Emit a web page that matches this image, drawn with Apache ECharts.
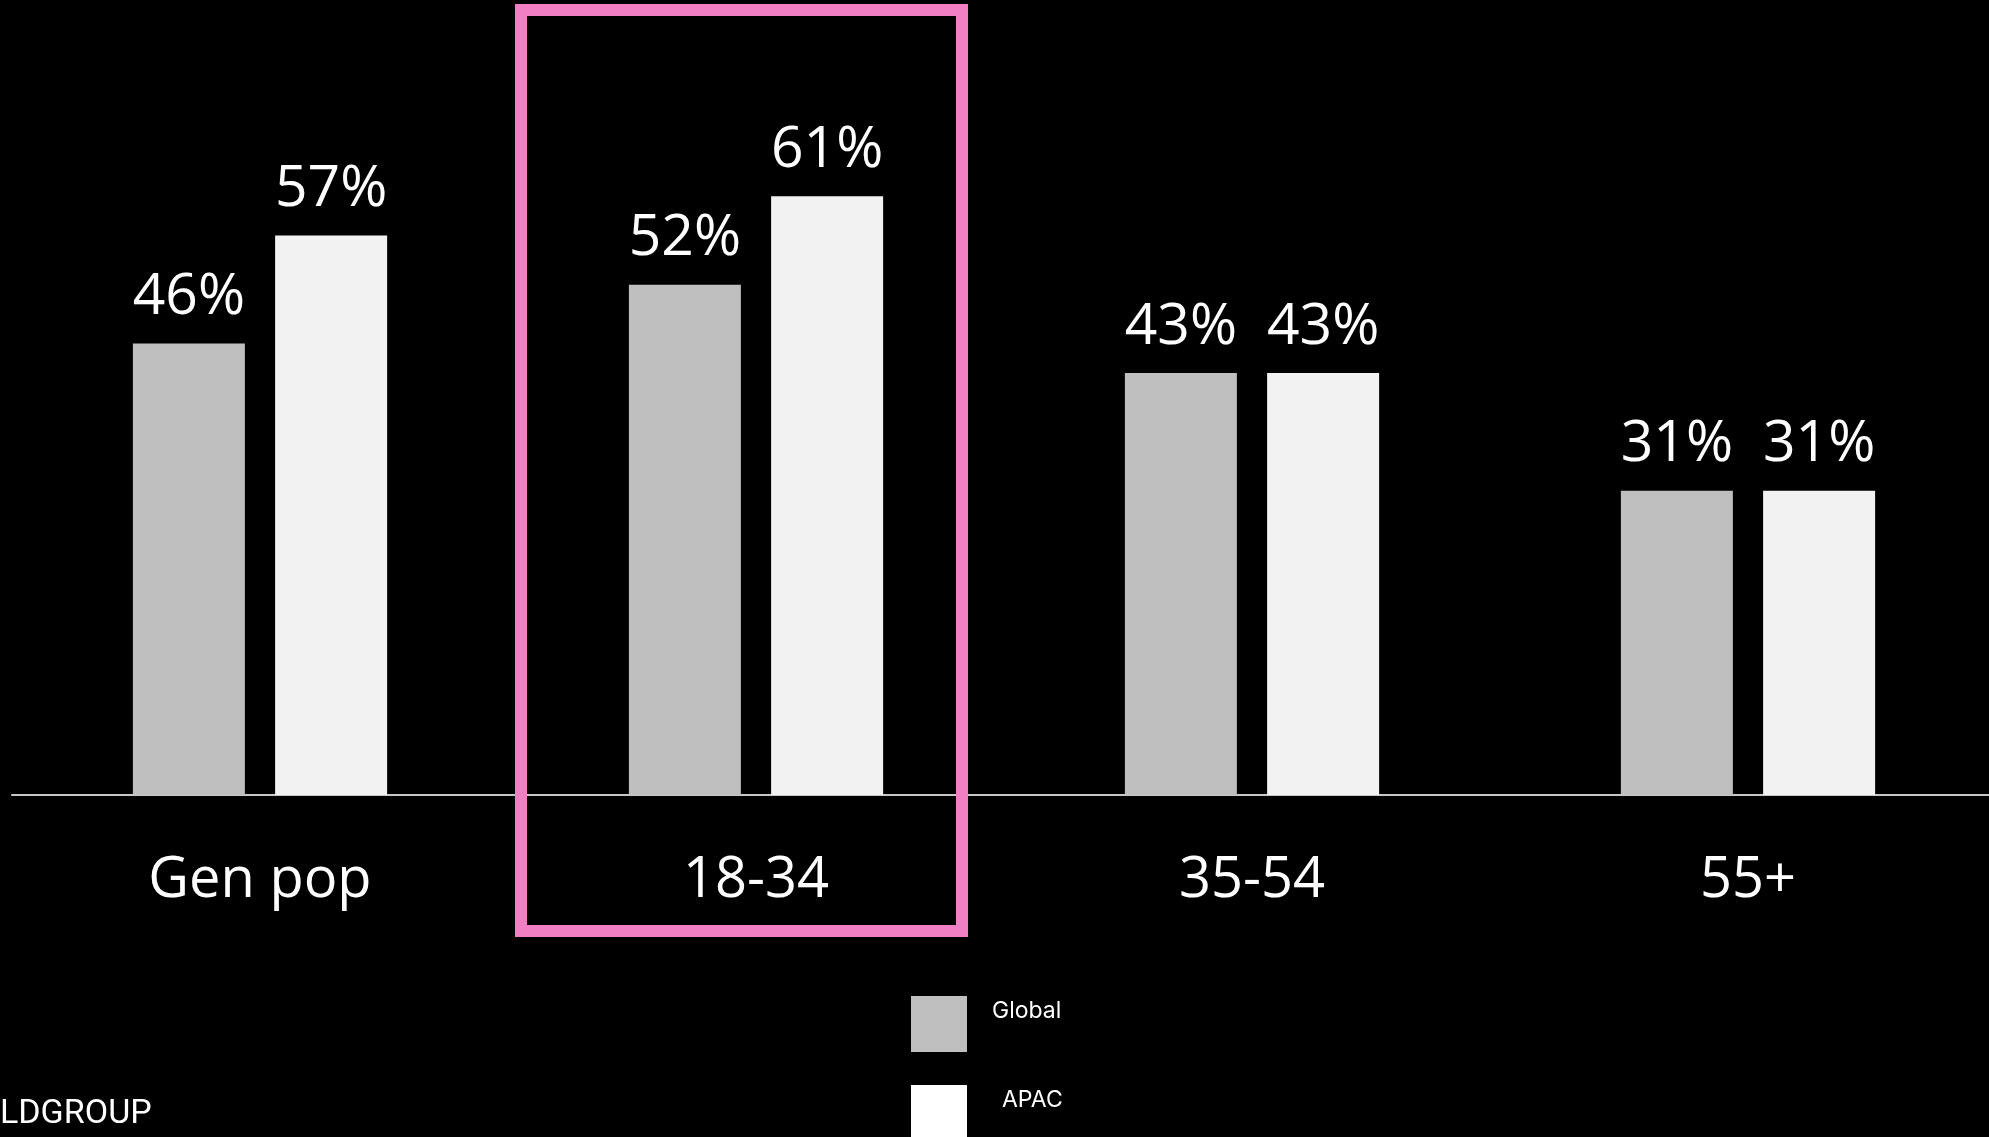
<!DOCTYPE html>
<html>
<head>
<meta charset="utf-8">
<script src="https://cdn.jsdelivr.net/npm/echarts@6/dist/echarts.min.js"></script>
<style>
html,body{margin:0;padding:0;background:#000;}
#main{width:1989px;height:1137px;}
</style>
</head>
<body>
<div id="main"></div>
<script>
const categories = ['Gen pop', '18-34', '35-54', '55+'];
const globalValues = [46, 52, 43, 31];
const apacValues = [57, 61, 43, 31];
const seriesNames = ['Global', 'APAC'];
const footerText = 'LDGROUP';

const chart = echarts.init(document.getElementById('main'));
const font = '"Open Sans", "Noto Sans", sans-serif';
const legendFont = 'Inter, Roboto, sans-serif';
chart.setOption({
  backgroundColor: '#000000',
  animation: false,
  grid: { left: 12, right: -7, top: 0, height: 795, containLabel: false, outerBoundsMode: 'none' },
  xAxis: {
    type: 'category',
    data: categories,
    axisLine: { show: true, lineStyle: { color: '#c8c8c8', width: 2 } },
    axisTick: { show: false },
    axisLabel: { color: '#ffffff', fontSize: 56, fontFamily: font, margin: 56, lineHeight: 60 }
  },
  yAxis: { type: 'value', min: 0, max: 81, show: false, splitLine: { show: false } },
  legend: [
    {
      orient: 'vertical', left: 911, top: 996, padding: 0,
      itemWidth: 56, itemHeight: 56, icon: 'rect',
      formatter: '{name}\n',
      textStyle: { color: '#ffffff', fontSize: 23, lineHeight: 26, fontFamily: legendFont, padding: [0, 0, 0, 20] },
      data: [{ name: seriesNames[0], itemStyle: { color: '#BFBFBF' } }]
    },
    {
      orient: 'vertical', left: 911, top: 1085, padding: 0,
      itemWidth: 56, itemHeight: 56, icon: 'rect',
      formatter: '{name}\n',
      textStyle: { color: '#ffffff', fontSize: 23, lineHeight: 26, fontFamily: legendFont, padding: [0, 0, 0, 30] },
      data: [{ name: seriesNames[1], itemStyle: { color: '#FFFFFF' } }]
    }
  ],
  series: [
    {
      name: seriesNames[0], type: 'bar', data: globalValues,
      barWidth: 112, barGap: '27%',
      itemStyle: { color: '#BFBFBF' },
      label: { show: true, position: 'top', distance: 17, formatter: '{c}%', color: '#ffffff', fontSize: 57, fontFamily: font }
    },
    {
      name: seriesNames[1], type: 'bar', data: apacValues,
      barWidth: 112, barGap: '27%',
      itemStyle: { color: '#F2F2F2' },
      label: { show: true, position: 'top', distance: 17, formatter: '{c}%', color: '#ffffff', fontSize: 57, fontFamily: font }
    }
  ],
  graphic: [
    {
      type: 'rect', z: 100,
      shape: { x: 521, y: 10, width: 441, height: 921 },
      style: { fill: 'none', stroke: '#F07FC4', lineWidth: 12 }
    },
    {
      type: 'text', left: 0, top: 1097, z: 100,
      style: { text: footerText, fill: '#ffffff', font: '34px Roboto, sans-serif' }
    }
  ]
});
</script>
</body>
</html>
